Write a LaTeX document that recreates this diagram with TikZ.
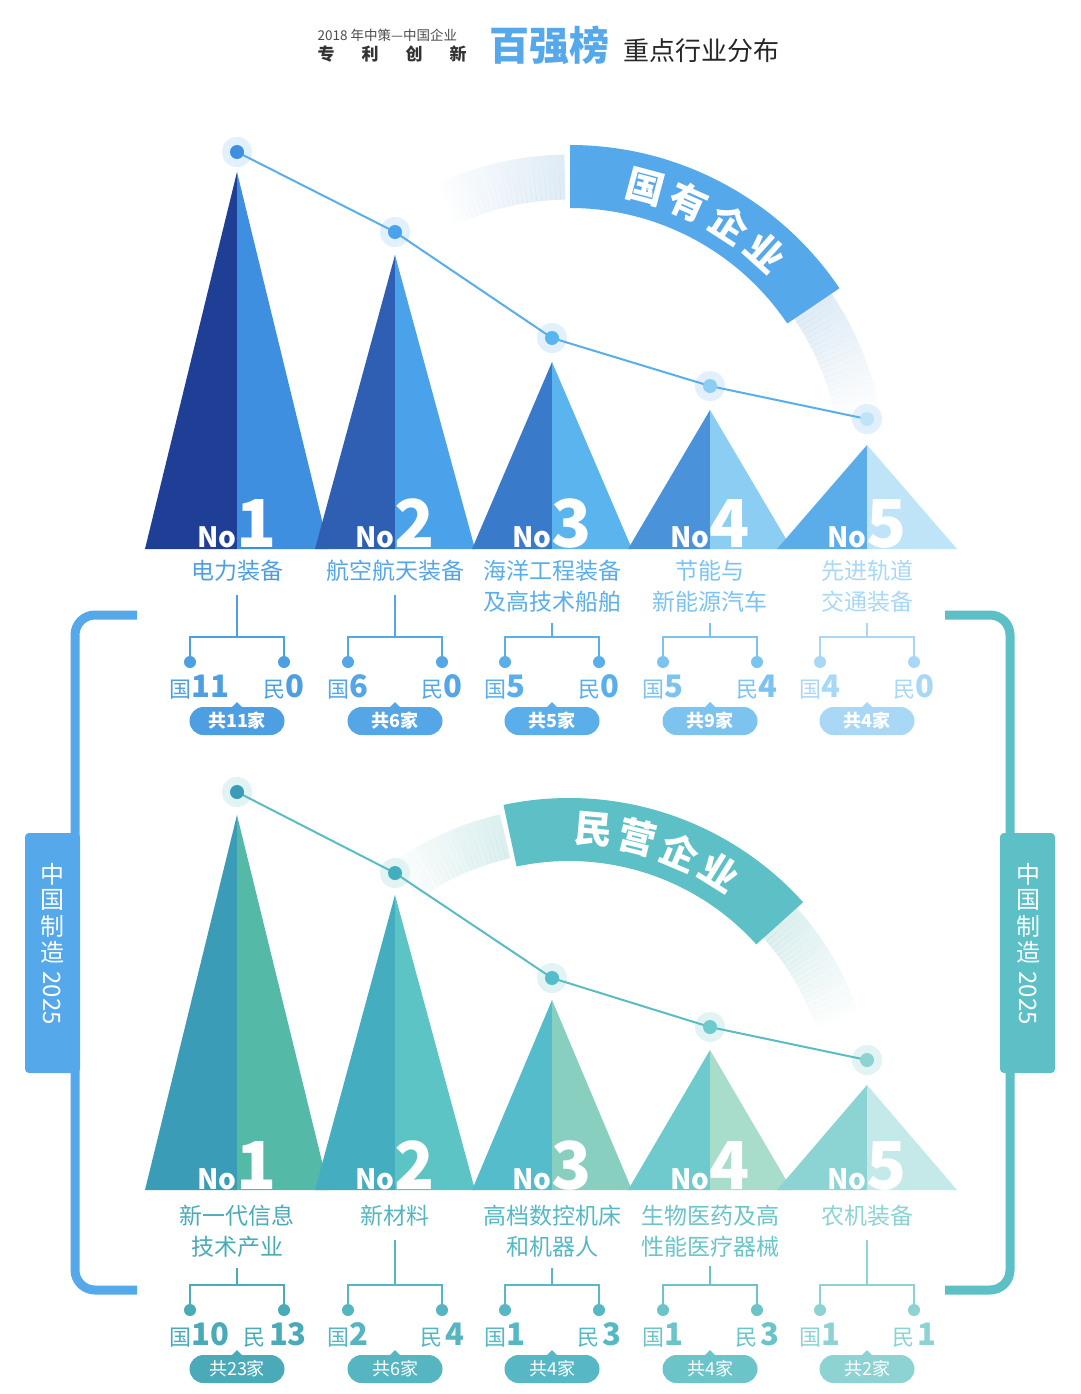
\documentclass[tikz,border=0pt]{standalone}
\usepackage{fontspec}
\setmainfont{Noto Sans CJK SC}
\usetikzlibrary{calc}
\definecolor{c1L}{HTML}{1F3E95}\definecolor{c1R}{HTML}{3F8FE0}
\definecolor{c2L}{HTML}{2E5FB3}\definecolor{c2R}{HTML}{4AA3EA}
\definecolor{c3L}{HTML}{3A7ACB}\definecolor{c3R}{HTML}{5AB5EE}
\definecolor{c4L}{HTML}{4A93DB}\definecolor{c4R}{HTML}{8CCDF3}
\definecolor{c5L}{HTML}{5AADE8}\definecolor{c5R}{HTML}{BFE4F8}
\definecolor{t1}{HTML}{4E9FE2}\definecolor{t2}{HTML}{55A6E6}\definecolor{t3}{HTML}{5AAEEA}
\definecolor{t4}{HTML}{7CC3F0}\definecolor{t5}{HTML}{A8D8F5}
\definecolor{b1L}{HTML}{3A9CB6}\definecolor{b1R}{HTML}{55B9A8}
\definecolor{b2L}{HTML}{44AEC0}\definecolor{b2R}{HTML}{5CC4C4}
\definecolor{b3L}{HTML}{55BCCC}\definecolor{b3R}{HTML}{88CFC0}
\definecolor{b4L}{HTML}{6FCACE}\definecolor{b4R}{HTML}{A8DCCB}
\definecolor{b5L}{HTML}{8CD3D4}\definecolor{b5R}{HTML}{C5E9E8}
\definecolor{s1}{HTML}{4AAAB8}\definecolor{s2}{HTML}{55B5C0}\definecolor{s3}{HTML}{55B8C4}
\definecolor{s4}{HTML}{6AC4C8}\definecolor{s5}{HTML}{8ED3D4}
\definecolor{blueband}{HTML}{55A8EA}\definecolor{tealband}{HTML}{5CC0C6}
\definecolor{topline}{HTML}{5AAEEA}\definecolor{botline}{HTML}{5CBCC4}
\definecolor{fadeblue}{HTML}{C4DCEF}\definecolor{fadeteal}{HTML}{BFE2E2}
\tikzset{
  namefont/.style={font=\fontsize{23}{31}\selectfont, align=center},
  pill/.style={rounded corners=14, minimum width=95, minimum height=28, inner sep=0, text=white},
  dotin/.style={circle, inner sep=0, minimum size=14},
  dotout/.style={circle, inner sep=0, minimum size=30},
  brk/.style={line width=2.2},
}
\newcommand{\tri}[6]{% cx apex base hw L R
  \fill[#5] (#1-#4,#3) -- (#1,#2) -- (#1,#3) -- cycle;
  \fill[#6] (#1,#3) -- (#1,#2) -- (#1+#4,#3) -- cycle;}
\begin{document}
\begin{tikzpicture}[x=1pt,y=-1pt]
\useasboundingbox (0,0) rectangle (1080,1394);
\fill[white] (0,0) rectangle (1080,1394);
% title
\node[anchor=base west, font=\fontsize{13.5}{14}\selectfont, text=black!70] (tA) at (314,41) {2018 年中策—中国企业};
\node[anchor=base west, font=\fontsize{17}{18}\selectfont\bfseries, text=black!80] (tB) at (314,61) {专\hspace{27pt}利\hspace{27pt}创\hspace{27pt}新};
\node[anchor=base west, font=\fontsize{40}{40}\selectfont\bfseries, text=blueband] (tC) at (486,61) {百强榜};
\node[anchor=base west, font=\fontsize{26}{26}\selectfont, text=black!85] (tD) at (620,61) {重点行业分布};
% ===== frames
\draw[line width=9, color=blueband, rounded corners=20] (137,615) -- (75,615) -- (75,1290) -- (137,1290);
\fill[blueband, rounded corners=4] (25,833) rectangle (80,1073);
\draw[line width=9, color=tealband, rounded corners=20] (945,615) -- (1010,615) -- (1010,1290) -- (945,1290);
\fill[tealband, rounded corners=4] (1000,833) rectangle (1055,1073);
\foreach \xx/\nm in {52/L,1028/R}{
  \foreach \ch [count=\k] in {中,国,制,造}
    \node[text=white, font=\fontsize{24}{24}\selectfont] (v\nm\k) at (\xx,848+\k*26) {\ch};
  \node[text=white, rotate=-90, font=\fontsize{24}{24}\selectfont] (v\nm5) at (\xx,998) {2025};
}
% ===== top banner arc
\begin{scope}[shift={(570,470)}]
  \foreach \a [evaluate=\a as \op using {(\a-90)/25*0.55}] in {91,...,114}
     \draw[fadeblue, line width=45, opacity=0.55-\op] (-\a-1.05:293) arc[start angle=-\a-1.05, end angle=-\a, radius=293];
  \foreach \a [evaluate=\a as \op using {(\a-10)/24*0.55}] in {10,...,34}
     \draw[fadeblue, line width=45, opacity=\op] (-\a-1.05:293) arc[start angle=-\a-1.05, end angle=-\a, radius=293];
  \fill[blueband] (-90:325) arc[start angle=-90, end angle=-34, radius=325] -- (-34:262) arc[start angle=-34, end angle=-90, radius=262] -- cycle;
  \foreach \ch/\a [count=\k] in {国/75,有/66,企/57,业/48}
    \node[text=white, font=\fontsize{38}{38}\selectfont\bfseries, rotate=\a-90, inner sep=0] (bt\k) at (-\a:293) {\ch};
\end{scope}
% ===== bottom banner arc
\begin{scope}[shift={(569,1113)}]
  \foreach \a [evaluate=\a as \op using {(\a-102)/24*0.55}] in {103,...,126}
     \draw[fadeteal, line width=45, opacity=0.55-\op] (-\a-1.05:284) arc[start angle=-\a-1.05, end angle=-\a, radius=284];
  \foreach \a [evaluate=\a as \op using {(\a-18)/24*0.55}] in {18,...,42}
     \draw[fadeteal, line width=45, opacity=\op] (-\a-1.05:284) arc[start angle=-\a-1.05, end angle=-\a, radius=284];
  \fill[tealband] (-102:315) arc[start angle=-102, end angle=-42, radius=315] -- (-42:252) arc[start angle=-42, end angle=-102, radius=252] -- cycle;
  \foreach \ch/\a [count=\k] in {民/85,营/76,企/67,业/58}
    \node[text=white, font=\fontsize{38}{38}\selectfont\bfseries, rotate=\a-90, inner sep=0] (bb\k) at (-\a:284) {\ch};
\end{scope}
% ===== top triangles
\tri{237}{172}{549}{92}{c1L}{c1R}
\tri{395}{255}{549}{80}{c2L}{c2R}
\tri{552}{362}{549}{80}{c3L}{c3R}
\tri{710}{410}{549}{82}{c4L}{c4R}
\tri{867}{445}{549}{90}{c5L}{c5R}
% bottom triangles
\tri{237}{815}{1190}{92}{b1L}{b1R}
\tri{395}{895}{1190}{80}{b2L}{b2R}
\tri{552}{1000}{1190}{80}{b3L}{b3R}
\tri{710}{1050}{1190}{82}{b4L}{b4R}
\tri{867}{1085}{1190}{90}{b5L}{b5R}
% ===== dots and lines
\foreach \k/\cx/\dy in {1/237/152,2/395/232,3/552/338,4/710/386,5/867/419}{
  \node[dotout, fill=topline!18] (tdo\k) at (\cx,\dy) {};
  \coordinate (td\k) at (\cx,\dy);
}
\draw[topline, line width=2] (td1) -- (td2) -- (td3) -- (td4) -- (td5);
\foreach \k/\cx/\dy in {1/237/792,2/395/873,3/552/978,4/710/1027,5/867/1060}{
  \node[dotout, fill=botline!18] (bdo\k) at (\cx,\dy) {};
  \coordinate (bd\k) at (\cx,\dy);
}
\draw[botline, line width=2] (bd1) -- (bd2) -- (bd3) -- (bd4) -- (bd5);
\foreach \k in {1,...,5}{\node[dotin, fill=c\k R] (tdi\k) at (td\k) {}; \node[dotin, fill=b\k L] (bdi\k) at (bd\k) {};}
% ===== No labels
\foreach \k/\cx in {1/237,2/395,3/552,4/710,5/867}{
  \node[anchor=base east, text=white, inner sep=0, font=\fontsize{28}{28}\selectfont\bfseries] (tno\k) at (\cx,547) {No};
  \node[anchor=base west, text=white, inner sep=0, font=\fontsize{66}{66}\selectfont\bfseries] (tnum\k) at (\cx-1,547) {\k};
  \node[anchor=base east, text=white, inner sep=0, font=\fontsize{28}{28}\selectfont\bfseries] (bno\k) at (\cx,1189) {No};
  \node[anchor=base west, text=white, inner sep=0, font=\fontsize{66}{66}\selectfont\bfseries] (bnum\k) at (\cx-1,1189) {\k};
}
% ===== top columns
\foreach \k/\cx/\nm/\vy/\g/\m/\tot in {
  1/237/{电力装备}/595/11/0/共11家,
  2/395/{航空航天装备}/595/6/0/共6家,
  3/552/{海洋工程装备\\及高技术船舶}/623/5/0/共5家,
  4/710/{节能与\\新能源汽车}/623/5/4/共9家,
  5/867/{先进轨道\\交通装备}/623/4/0/共4家}{
  \node[namefont, text=t\k, anchor=north, inner sep=0] (tn\k) at (\cx,560) {\nm};
  \coordinate (tj\k) at (\cx,\vy);
  \coordinate (tl\k) at (\cx-47,662);
  \coordinate (tr\k) at (\cx+47,662);
  \draw[brk, t\k] (tj\k) -- (\cx,637) (tl\k) |- (\cx,637) -| (tr\k);
  \fill[t\k] (tl\k) circle (6) (tr\k) circle (6);
  \node[anchor=base west, text=t\k, inner sep=0] (tg\k) at (\cx-68,697) {\fontsize{22}{22}\selectfont 国\fontsize{31}{31}\selectfont\bfseries\g};
  \node[anchor=base east, text=t\k, inner sep=0] (tm\k) at (\cx+68,697) {\fontsize{22}{22}\selectfont 民\fontsize{31}{31}\selectfont\bfseries\m};
  \fill[t\k] (\cx-6,708) -- (\cx,702) -- (\cx+6,708) -- cycle;
  \node[pill, fill=t\k, font=\fontsize{18}{18}\selectfont\bfseries] (tp\k) at (\cx,721) {\tot};
}
% ===== bottom columns
\foreach \k/\cx/\nm/\vy/\g/\m/\tot in {
  1/237/{新一代信息\\技术产业}/1268/10/13/共23家,
  2/395/{新材料}/1240/2/4/共6家,
  3/552/{高档数控机床\\和机器人}/1268/1/3/共4家,
  4/710/{生物医药及高\\性能医疗器械}/1266/1/3/共4家,
  5/867/{农机装备}/1240/1/1/共2家}{
  \node[namefont, text=s\k, anchor=north, inner sep=0] (bn\k) at (\cx,1205) {\nm};
  \coordinate (bj\k) at (\cx,\vy);
  \coordinate (bl\k) at (\cx-47,1310);
  \coordinate (br\k) at (\cx+47,1310);
  \draw[brk, s\k] (bj\k) -- (\cx,1285) (bl\k) |- (\cx,1285) -| (br\k);
  \fill[s\k] (bl\k) circle (6) (br\k) circle (6);
  \node[anchor=base west, text=s\k, inner sep=0] (bg\k) at (\cx-68,1345) {\fontsize{22}{22}\selectfont 国\fontsize{31}{31}\selectfont\bfseries\g};
  \node[anchor=base east, text=s\k, inner sep=0] (bm\k) at (\cx+70,1345) {\fontsize{22}{22}\selectfont 民\,\fontsize{31}{31}\selectfont\bfseries\m};
  \fill[s\k] (\cx-6,1356) -- (\cx,1350) -- (\cx+6,1356) -- cycle;
  \node[pill, fill=s\k, font=\fontsize{18}{18}\selectfont] (bp\k) at (\cx,1369) {\tot};
}
\end{tikzpicture}
\end{document}
